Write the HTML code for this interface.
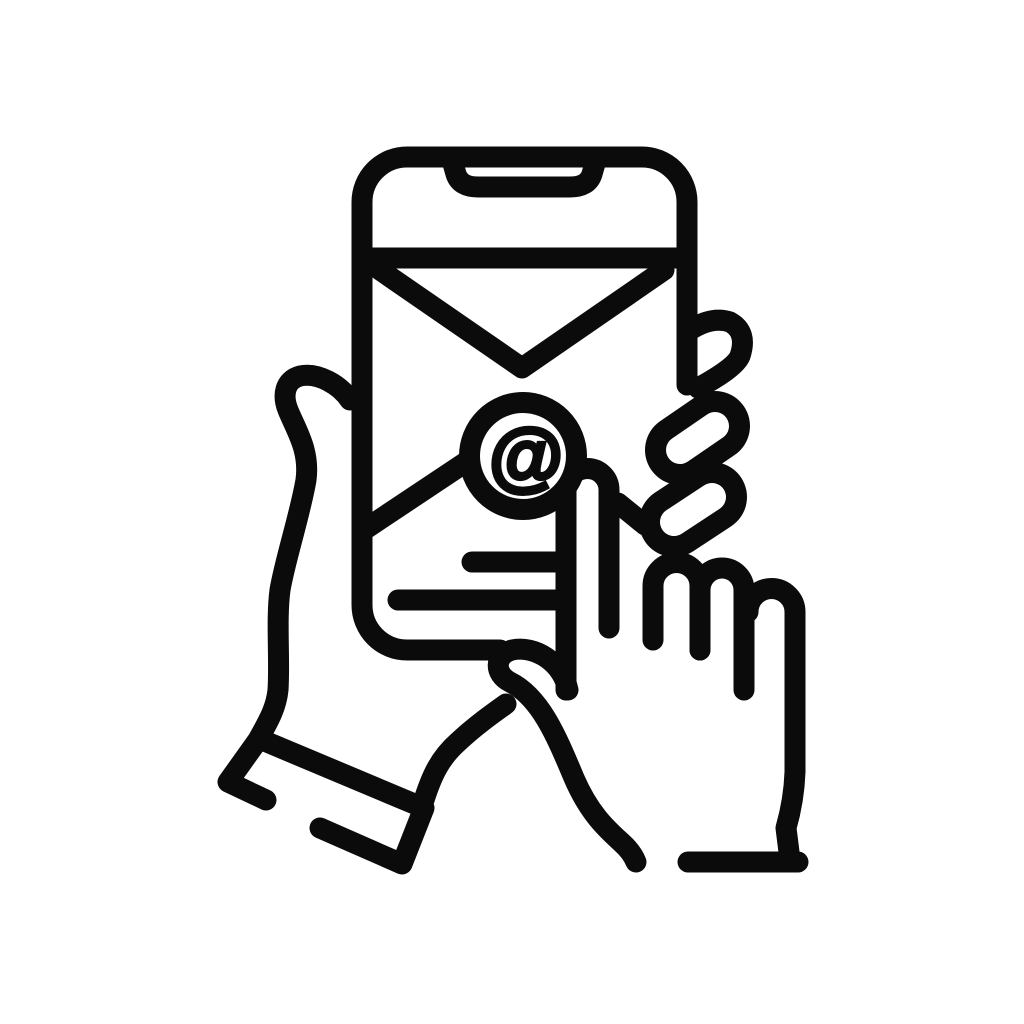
<!DOCTYPE html>
<html><head><style>html,body{margin:0;padding:0;background:#fff}svg{display:block}</style></head>
<body>
<svg width="1024" height="1024" viewBox="0 0 1024 1024" xmlns="http://www.w3.org/2000/svg">
<rect width="1024" height="1024" fill="#fff"/>
<g fill="none" stroke="#0b0b0b" stroke-width="21" stroke-linecap="round" stroke-linejoin="round">
  <path d="M500 650 L407 650 A45 45 0 0 1 362 605 L362 202 A45 45 0 0 1 407 157 L642 157 A45 45 0 0 1 687 202 L687 385"/>
  <path d="M452 160 L456 174 Q460 187 478 187 L570 187 Q588 187 592 174 L596 160"/>
  <line x1="362" y1="258" x2="687" y2="258" stroke-linecap="butt"/>
  <path d="M380 270 L522 368 L664 270"/>
  <line x1="364" y1="530" x2="472" y2="458"/>
  <line x1="618" y1="503" x2="645" y2="525"/>
  <line x1="472" y1="562" x2="556" y2="562"/>
  <line x1="398" y1="600" x2="556" y2="600"/>
  <path d="M350 400 C340 385 318 372 300 376 C285 380 282 395 288 410 C296 430 310 450 306 480 C300 515 285 560 280 590 C276 620 280 660 278 690 C276 710 266 725 258 740 L228 782 L266 800"/>
  <path d="M262 740 L424 808 L402 864 L320 828"/>
  <path d="M424 800 C432 775 440 758 458 742 C475 726 492 714 506 704"/>
  <path d="M690 330 Q712 316 730 322 Q748 332 740 356 Q735 368 698 388"/>
  <path d="M566 690 L566 490 A21.5 21.5 0 0 1 609 490 L609 628"/>
  <path d="M653 640 L653 586 A23.5 23.5 0 0 1 700 586 L700 650"/>
  <path d="M700 650 L700 590 A22 22 0 0 1 744 590 L744 690"/>
  <path d="M748 612 A22 22 0 0 1 795 612 L795 772 Q794 800 786 828 L790 860"/>
  <line x1="688" y1="862" x2="798" y2="862"/>
  <path d="M568 690 C562 662 535 645 512 650 C494 655 494 674 510 682 C540 697 556 735 574 778 C590 815 608 830 622 843 Q632 852 636 862"/>
</g>
<g stroke-linecap="round">
  <line x1="680" y1="450" x2="715" y2="426" stroke="#0b0b0b" stroke-width="70"/>
  <line x1="680" y1="450" x2="715" y2="426" stroke="#fff" stroke-width="28"/>
  <line x1="674" y1="522" x2="712" y2="497" stroke="#0b0b0b" stroke-width="70"/>
  <line x1="674" y1="522" x2="712" y2="497" stroke="#fff" stroke-width="28"/>
</g>
<circle cx="523" cy="456" r="53.5" fill="#fff" stroke="#0b0b0b" stroke-width="21"/>
<text x="526" y="482" text-anchor="middle" font-family="Liberation Sans, sans-serif" font-weight="bold" font-size="76" fill="#0b0b0b" stroke="#0b0b0b" stroke-width="4">@</text>
</svg>
</body></html>
